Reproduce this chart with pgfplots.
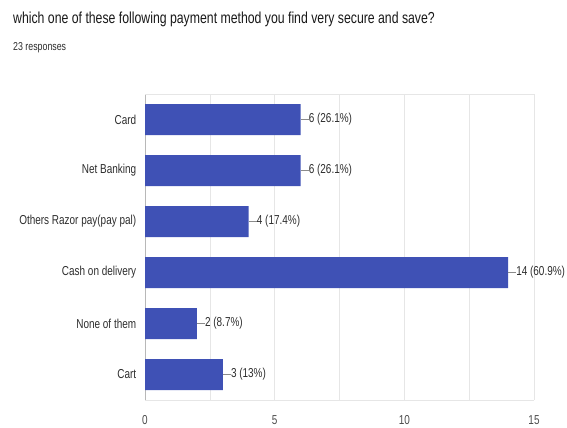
\documentclass[border=0pt]{standalone}
\usepackage{pgfplots}
\pgfplotsset{compat=1.18}
\usepackage{fontspec}
\setmainfont{Liberation Sans}[FakeStretch=0.77]
\definecolor{barblue}{RGB}{63,81,181}
\definecolor{txt}{RGB}{45,45,45}
\definecolor{gridc}{RGB}{230,230,230}
\begin{document}
\begin{tikzpicture}
\path[use as bounding box] (0,0) rectangle (567bp,428bp);
\node[anchor=west, inner sep=0, font=\fontsize{16}{18}\selectfont, text=black!90] at (13bp,409bp) {which one of these following payment method you find very secure and save?};
\node[anchor=west, inner sep=0, font=\fontsize{11.5}{13}\selectfont, text=txt] at (13bp,380bp) {23 responses};
\begin{axis}[
  at={(145bp,28bp)}, anchor=south west,
  scale only axis, width=389bp, height=306bp,
  xmin=0, xmax=15, ymin=-0.5, ymax=5.5,
  y dir=reverse,
  xbar, bar width=31bp,
  xtick={0,5,10,15}, minor xtick={2.5,7.5,12.5},
  xmajorgrids, xminorgrids,
  grid style={gridc, line width=0.6pt},
  minor grid style={gridc, line width=0.6pt},
  ytick={0,1,2,3,4,5},
  yticklabels={Card,Net Banking,Others Razor pay(pay pal),Cash on delivery,None of them,Cart},
  axis line style={draw=none},
  tick style={draw=none},
  yticklabel style={font=\fontsize{13}{15}\selectfont, text=txt, xshift=-1bp},
  xticklabel style={font=\fontsize{13}{15}\selectfont, text=txt!85, yshift=-12bp},
  /pgf/number format/assume math mode=true,
  point meta=explicit symbolic,
  nodes near coords={\textcolor{txt!55}{\rule[0.45ex]{8bp}{0.5pt}}\pgfplotspointmeta},
  nodes near coords style={anchor=west, inner xsep=0pt, font=\fontsize{13}{15}\selectfont, text=txt},
  clip=false,
]
\draw[gridc!55!gray, line width=0.8pt] (axis cs:0,-0.5) -- (axis cs:0,5.5);
\draw[gridc, line width=0.6pt] (axis cs:0,-0.5) -- (axis cs:15,-0.5);
\draw[gridc, line width=0.6pt] (axis cs:0,5.5) -- (axis cs:15,5.5);
\addplot[fill=barblue, draw=none] coordinates {
  (6,0) [6 (26.1\%)]
  (6,1) [6 (26.1\%)]
  (4,2) [4 (17.4\%)]
  (14,3) [14 (60.9\%)]
  (2,4) [2 (8.7\%)]
  (3,5) [3 (13\%)]
};
\end{axis}
\end{tikzpicture}
\end{document}
